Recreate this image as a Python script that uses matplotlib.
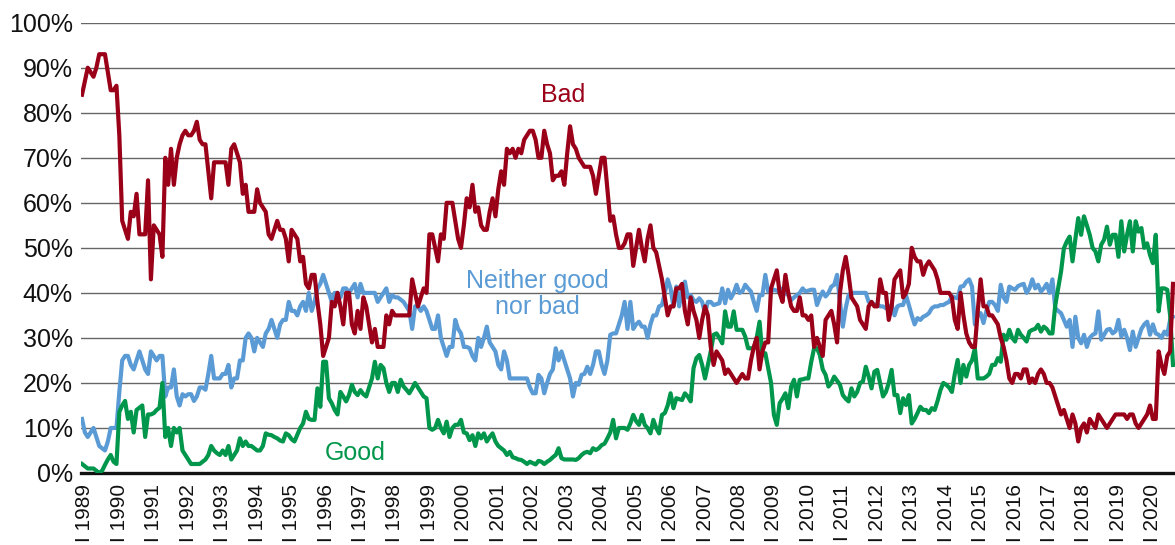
import numpy as np
import matplotlib
matplotlib.use("Agg")
import matplotlib.pyplot as plt

plt.rcParams["font.family"] = ["Liberation Sans", "DejaVu Sans"]

# monthly shares (%), Jan 1989 .. Sep 2020
bad = [
    84, 87, 90, 89, 88, 90, 93, 93, 93, 89, 85, 85,   # 1989
    86, 75, 56, 54, 52, 58, 57, 62, 53, 53, 53, 65,   # 1990
    43, 55, 54, 53, 48, 70, 64, 72, 64, 70, 73, 75,   # 1991
    76, 75, 75, 76, 78, 74, 73, 73, 67, 61, 69, 69,   # 1992
    69, 69, 69, 64, 72, 73, 71, 69, 62, 64, 58, 58,   # 1993
    58, 63, 60, 59, 58, 53, 52, 54, 56, 54, 54, 52,   # 1994
    47, 54, 53, 52, 47, 48, 42, 41, 44, 44, 38, 33,   # 1995
    26, 28, 30, 38, 37, 40, 37, 33, 40, 40, 33, 31,   # 1996
    36, 32, 39, 37, 33, 29, 32, 28, 28, 28, 35, 33,   # 1997
    36, 35, 35, 35, 35, 35, 35, 43, 40, 37, 39, 41,   # 1998
    40, 53, 53, 50, 47, 53, 52, 60, 60, 60, 56, 52,   # 1999
    50, 55, 61, 59, 64, 58, 59, 55, 54, 54, 58, 61,   # 2000
    57, 63, 67, 64, 72, 71, 72, 70, 72, 71, 74, 75,   # 2001
    76, 76, 74, 70, 70, 76, 73, 71, 65, 66, 66, 67,   # 2002
    64, 71, 77, 73, 72, 70, 69, 68, 68, 68, 66, 62,   # 2003
    66, 70, 70, 63, 56, 57, 53, 50, 50, 51, 53, 53,   # 2004
    46, 50, 54, 50, 47, 52, 55, 50, 49, 46, 43, 39,   # 2005
    35, 37, 37, 41, 41, 42, 36, 33, 39, 36, 34, 30,   # 2006
    34, 37, 35, 28, 24, 27, 26, 25, 22, 23, 22, 21,   # 2007
    20, 21, 22, 21, 21, 25, 28, 30, 23, 27, 29, 29,   # 2008
    41, 43, 45, 40, 38, 44, 40, 37, 36, 36, 39, 35,   # 2009
    35, 34, 35, 28, 30, 28, 26, 34, 35, 36, 33, 29,   # 2010
    40, 45, 48, 44, 39, 38, 37, 34, 33, 32, 37, 38,   # 2011
    37, 37, 43, 40, 40, 34, 37, 43, 44, 45, 39, 40,   # 2012
    42, 50, 48, 47, 47, 44, 46, 47, 46, 45, 43, 40,   # 2013
    40, 40, 40, 39, 34, 32, 40, 35, 31, 29, 28, 28,   # 2014
    36, 43, 37, 37, 35, 35, 34, 33, 30, 28, 25, 21,   # 2015
    20, 22, 22, 21, 23, 23, 20, 21, 20, 22, 23, 22,   # 2016
    20, 20, 19, 17, 15, 13, 14, 12, 10, 13, 11, 7,    # 2017
    10, 11, 9, 12, 11, 10, 13, 12, 11, 10, 11, 12,    # 2018
    13, 13, 13, 13, 12, 13, 13, 11, 10, 11, 12, 13,   # 2019
    15, 12, 12, 27, 24, 22, 26, 27, 42,               # 2020
]
neither = [
    12, 9, 8, 9, 10, 8, 6, 5.5, 5, 7, 10, 10,
    10, 18, 25, 26, 26, 24, 23, 25, 27, 25, 23, 22,
    27, 26, 25, 26, 26, 17, 19, 19, 23, 17, 15, 17.5,
    17, 17.5, 17.5, 16, 17, 19, 19, 18.5, 22, 26, 21, 21,
    21, 22, 22, 24, 19, 21, 21, 25, 25, 30, 31, 30,
    27, 30, 29, 28, 31, 32, 34, 32, 30, 33, 34, 34,
    38, 36, 36, 35, 37, 38, 36, 40, 36, 38, 41, 42,
    44, 42, 40, 38, 40, 40, 39, 41, 41, 40, 41, 42,
    39, 42, 40, 40, 40, 40, 40, 38, 39, 40, 41, 38,
    39.5, 39, 39, 38.5, 38, 37, 36, 32, 37, 37, 36, 37,
    36, 34, 32, 32, 35, 30, 28, 26, 28, 28, 34, 32,
    31, 28, 28, 27.7, 26, 25, 30, 28, 30, 32.5, 29, 28,
    27, 24, 23, 27, 25, 21, 21, 21, 21, 21, 21, 21,
    19, 17.7, 17.7, 21.8, 21, 17.7, 20, 22, 23, 27.7, 25, 27,
    25, 23, 21, 17, 20, 19.6, 21.8, 22, 23.6, 22, 24, 27,
    27, 24, 22, 25, 30.7, 31, 31, 33, 35, 38, 32, 38,
    32, 33, 33.6, 32.5, 32.5, 30, 33, 35, 35, 37, 37.3, 40,
    43, 41, 37, 41.4, 37, 41, 42.5, 39, 39.5, 38.4, 38, 38.8,
    38, 35.5, 38, 38, 37.3, 37.5, 37.7, 41, 37.7, 40.7, 38.8, 40,
    41.8, 40, 40.3, 41.8, 41, 40.3, 38, 36, 39.5, 39.5, 44, 40.3,
    40.3, 40.7, 40.5, 40.3, 41, 40, 39.5, 38.4, 39, 39.5, 40, 41,
    40.3, 40.5, 40.7, 40.7, 37.3, 39, 40.3, 39.2, 40, 41.4, 41.8, 44,
    38, 32.5, 36.6, 39.5, 40, 40, 40, 40, 40, 40, 38, 38,
    37.3, 37.5, 37, 37, 36.6, 37, 37.3, 35, 37, 37.3, 37.3, 39.5,
    37.3, 35, 33, 34.4, 34, 34.7, 35, 35.5, 36.6, 37, 37, 37.3,
    37.3, 37.7, 38, 39.2, 39, 38.8, 41.4, 41.5, 42.5, 43, 41.4, 33,
    35, 35.5, 33.3, 36, 38, 38, 37.3, 36, 41.8, 39, 38, 41.4,
    41, 40.7, 41.5, 41.8, 42, 40, 41, 43, 41, 41.8, 40.3, 41,
    42, 40, 43, 36.6, 36, 35.5, 34, 32.5, 34, 28, 34.7, 30,
    28.8, 30.7, 28, 30, 30.7, 31, 35.9, 29.6, 30.7, 31.8, 32, 31,
    31.5, 34, 30.3, 31.8, 30, 27.3, 31.4, 28, 30, 32, 33, 33.6,
    30.7, 33, 31, 30.7, 30, 31.4, 30.7, 34, 34.7,
]
good = [
    2, 1.5, 1, 1, 1, 0.5, 0, 0.5, 1.8, 3, 4, 2.5,
    2, 13.6, 15, 16, 12, 13.6, 9, 14, 14.5, 15, 8, 13,
    13, 13.3, 14, 14.5, 20, 8, 10, 6, 10, 9, 10, 5,
    4, 3, 2, 2, 2, 2, 2.5, 3, 4, 6, 5, 4.4,
    4, 5, 4, 6, 3, 4, 5, 7.7, 6, 7, 6, 6,
    5.5, 5, 5, 6, 8.8, 8.5, 8.4, 8, 7.7, 7.2, 7, 8.8,
    8.4, 7.5, 7, 8.5, 10, 11, 13.6, 12, 11.8, 11.8, 18.8, 14.7,
    24.7, 24.7, 16.6, 15.5, 14, 13, 18, 17, 15.9, 17.3, 19.6, 18,
    17.3, 18.4, 17.5, 17, 19, 21, 24.7, 21, 24, 23.3, 20, 18,
    20, 20, 18, 20.7, 19.2, 18.5, 17.7, 18.8, 20, 19, 18, 17,
    16.6, 10, 9.6, 10, 11.8, 10, 8.8, 11.4, 8, 10, 10.7, 10.7,
    11.8, 9, 8.8, 7.3, 8.4, 6, 8.8, 7.7, 8.8, 7, 8, 8.8,
    7, 6, 5.5, 5, 4, 4.7, 3.5, 3.3, 3, 2.9, 2.5, 2,
    2.5, 2.2, 1.9, 2.7, 2.5, 2, 2.5, 2.9, 3.5, 4, 5.5, 3.3,
    3, 3, 3, 3, 2.9, 3.3, 4, 4.5, 4.7, 4.4, 5.5, 5.1,
    5.5, 6.2, 6.5, 7.7, 9, 11.8, 7.7, 10, 10, 10, 9.6, 11,
    12.9, 11.5, 10.7, 12.9, 10.7, 10, 8.8, 11.8, 10, 8.8, 12.9, 13.3,
    15, 17.7, 14.4, 16.6, 16.4, 16.2, 17.7, 17, 15.9, 23.3, 25.5, 26.2,
    24, 21, 24, 27, 30.7, 31, 30, 28.8, 35.9, 32.5, 32.5, 35.9,
    31.8, 31.8, 31.8, 30.3, 27.7, 27.7, 27.7, 30, 33.6, 26.2, 26.6, 23.3,
    20, 12.9, 10.7, 15.5, 16.5, 17.7, 14.4, 19.2, 20.7, 17, 20.7, 20.8,
    21, 21, 24.7, 27.7, 27.7, 26.2, 23, 21.8, 19.2, 20, 21.4, 20.5,
    19.6, 17.3, 16.5, 15.9, 18.8, 17, 18, 20, 20.3, 23.6, 21.4, 18.8,
    22.5, 22.9, 20, 17, 18, 20, 22.9, 17.3, 17.3, 13.3, 16.6, 15.1,
    17.3, 11, 12, 13.3, 14.7, 14, 14, 13.3, 14.4, 14, 16, 18.4,
    20, 19.6, 19, 18, 22, 25.1, 20, 24, 21.4, 24, 25, 27.7,
    21, 21, 21, 21.4, 22, 24, 24, 25.5, 24.7, 30.7, 29.6, 31.8,
    30, 29.2, 31.8, 30.7, 30, 29.2, 31.4, 31.8, 32, 32.9, 31.4, 32.5,
    32, 31, 31, 37.3, 41, 44.7, 49.9, 51.4, 52.5, 47, 52, 56.6,
    52.9, 57, 55, 52.9, 50, 49.2, 47, 50.7, 51.8, 54.7, 50.7, 52.9,
    52.9, 48, 55.9, 49.2, 52.9, 55.9, 49.2, 55.9, 53.6, 54.4, 50, 51,
    48.4, 46.6, 52.9, 35.9, 41, 41, 40.7, 35, 24,
]
years = list(range(1989, 2021))
year_labels = [f"I {y}" for y in years]
y_ticks = [0, 10, 20, 30, 40, 50, 60, 70, 80, 90, 100]

RED, BLUE, GREEN = "#9b0019", "#5b9bd5", "#00964b"

fig = plt.figure(figsize=(11.75, 5.45), dpi=100)
ax = fig.add_axes([81 / 1175, 72 / 545, 1094 / 1175, 450.3 / 545])

m = np.arange(len(bad))
ax.plot(m, neither, color=BLUE, lw=3.0, solid_joinstyle="round", zorder=3)
ax.plot(m, good, color=GREEN, lw=3.0, solid_joinstyle="round", zorder=4)
ax.plot(m, bad, color=RED, lw=3.0, solid_joinstyle="round", zorder=5)

ax.set_xlim(-0.35, 380.7)
ax.set_ylim(0, 100)
ax.set_yticks(y_ticks)
ax.set_yticklabels([f"{v}%" for v in y_ticks], fontsize=18, color="#111111")
ax.set_xticks([12 * i + 1 for i in range(len(years))])
ax.set_xticklabels(year_labels, rotation=90, fontsize=15, color="#111111",
                   va="top", ha="center")
ax.tick_params(axis="both", length=0)
ax.tick_params(axis="y", pad=6)
ax.tick_params(axis="x", pad=8)
ax.grid(axis="y", color="#666666", lw=1.0)
ax.set_axisbelow(True)
for side in ("top", "right", "left"):
    ax.spines[side].set_visible(False)
ax.spines["bottom"].set_linewidth(2.4)
ax.spines["bottom"].set_color("#111111")

ax.text(167.5, 84, "Bad", color=RED, fontsize=18, ha="center", va="center")
ax.text(158.5, 39.8, "Neither good\nnor bad", color=BLUE, fontsize=18,
        ha="center", va="center", linespacing=1.1)
ax.text(95, 4.5, "Good", color=GREEN, fontsize=18, ha="center", va="center")

fig.savefig("out.png", dpi=100)
